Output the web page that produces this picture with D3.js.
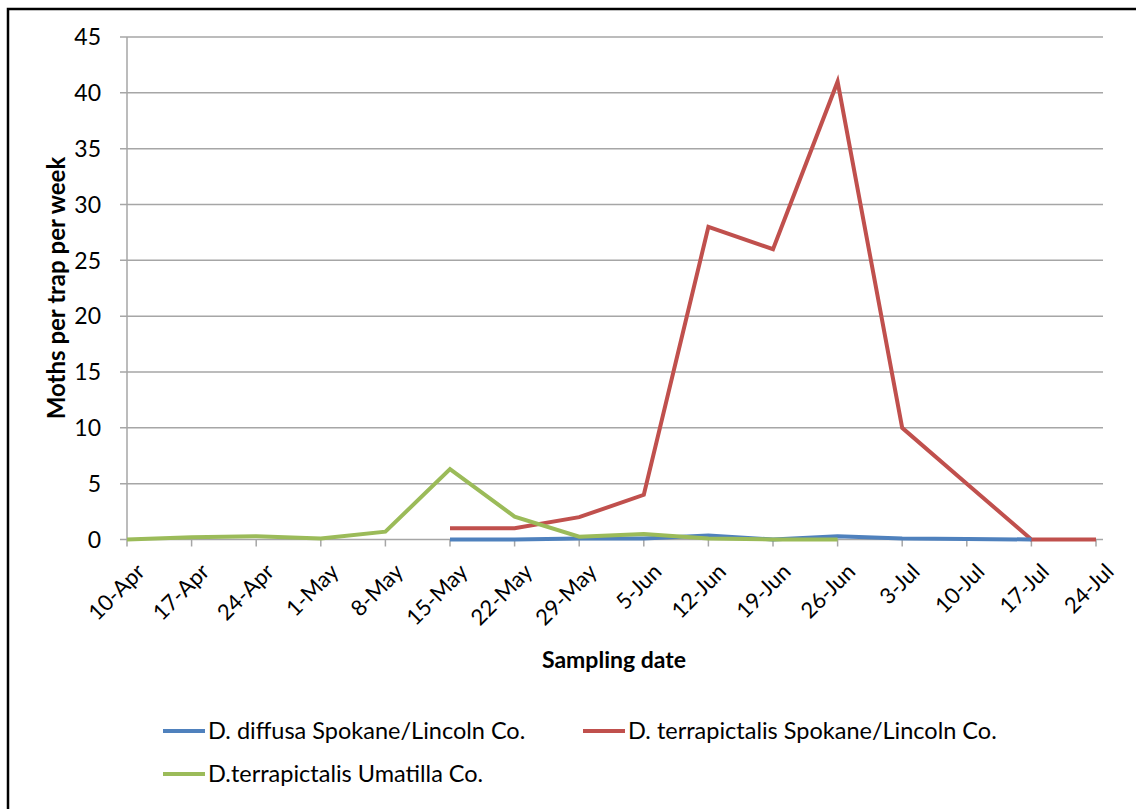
<!DOCTYPE html>
<html><head><meta charset="utf-8">
<script src="https://cdn.jsdelivr.net/npm/d3@7"></script>
<style>
html,body{margin:0;padding:0;background:#fff;}
svg text{font-family:Lato,"Open Sans",sans-serif;fill:#000;}
</style></head>
<body>
<svg id="chart" width="1136" height="809"></svg>
<script>
const dates = ["10-Apr","17-Apr","24-Apr","1-May","8-May","15-May","22-May","29-May","5-Jun","12-Jun","19-Jun","26-Jun","3-Jul","10-Jul","17-Jul","24-Jul"];
const diffusaSpokane = [null,null,null,null,null,0,0,0.1,0.1,0.35,0,0.3,0.1,0.05,0,null];
const terrapictalisSpokane = [null,null,null,null,null,1,1,2,4,28,26,41,10,5,0,0];
const terrapictalisUmatilla = [0,0.2,0.3,0.1,0.7,6.3,2.05,0.25,0.5,0.1,0,0,null,null,null,null];
const yTicks = [0,5,10,15,20,25,30,35,40,45];
const seriesNames = ["D. diffusa Spokane/Lincoln Co.","D. terrapictalis Spokane/Lincoln Co.","D.terrapictalis Umatilla Co."];
const seriesColors = ["#4F81BD","#C0504D","#9BBB59"];

(function(){
const svg = d3.select("#chart");
svg.append("rect").attr("x",8).attr("y",9).attr("width",1140).attr("height",820)
  .attr("fill","none").attr("stroke","#000").attr("stroke-width",2.5);

const pLeft=127, pRight=1103, pTop=37, pBottom=539.5;
const x = d3.scalePoint().domain(dates).range([pLeft,1096]);
const y = d3.scaleLinear().domain([0,45]).range([pBottom,pTop]);

svg.append("g").selectAll("line").data(yTicks).join("line")
  .attr("x1",pLeft-7).attr("x2",pRight).attr("y1",d=>y(d)).attr("y2",d=>y(d))
  .attr("stroke","#A6A6A6").attr("stroke-width",1.5);
svg.append("line").attr("x1",pLeft).attr("x2",pLeft).attr("y1",pTop).attr("y2",pBottom)
  .attr("stroke","#A6A6A6").attr("stroke-width",1.5);
svg.append("g").selectAll("text").data(yTicks).join("text")
  .attr("x",pLeft-26).attr("y",d=>y(d)).attr("dy","0.36em").attr("text-anchor","end")
  .style("font-size","23px").text(d=>d);
svg.append("g").selectAll("line").data(dates).join("line")
  .attr("x1",d=>x(d)).attr("x2",d=>x(d)).attr("y1",pBottom).attr("y2",pBottom+7)
  .attr("stroke","#A6A6A6").attr("stroke-width",1.5);
svg.append("g").selectAll("text").data(dates).join("text")
  .attr("transform",d=>`translate(${x(d)+13.5},${pBottom+28}) rotate(-45)`)
  .attr("text-anchor","end").attr("dy","0.36em")
  .style("font-size","22px").text(d=>d);

const allSeries=[diffusaSpokane,terrapictalisSpokane,terrapictalisUmatilla];
const line = d3.line().defined(d=>d.v!==null).x(d=>x(d.k)).y(d=>y(d.v));
[1,0,2].forEach(i=>{
  const data = allSeries[i].map((v,j)=>({k:dates[j],v}));
  svg.append("path").datum(data).attr("d",line).attr("fill","none")
    .attr("stroke",seriesColors[i]).attr("stroke-width",4).attr("stroke-linejoin","miter");
});

svg.append("text").attr("transform","translate(65,288) rotate(-90)").attr("text-anchor","middle")
  .style("font-size","24px").style("font-weight","bold").text("Moths per trap per week");
svg.append("text").attr("x",614).attr("y",668).attr("text-anchor","middle")
  .style("font-size","23px").style("font-weight","bold").text("Sampling date");

const legPos=[[163,731],[583,731],[163,774]];
seriesNames.forEach((n,i)=>{
  const [lx,ly]=legPos[i];
  svg.append("line").attr("x1",lx).attr("x2",lx+42).attr("y1",ly).attr("y2",ly)
    .attr("stroke",seriesColors[i]).attr("stroke-width",4);
  svg.append("text").attr("x",lx+45).attr("y",ly).attr("dy","0.36em")
    .style("font-size","23.5px").text(n);
});
})();
</script>
</body></html>
